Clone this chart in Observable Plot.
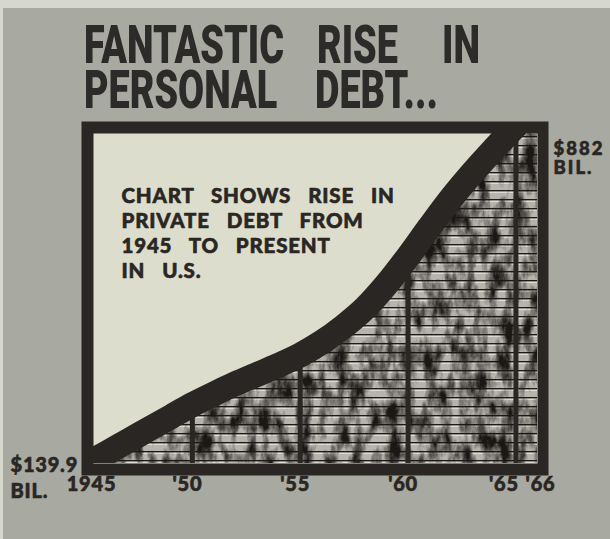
<!DOCTYPE html>
<html><head><meta charset="utf-8">
<script src="https://cdn.jsdelivr.net/npm/d3@7"></script>
<script src="https://cdn.jsdelivr.net/npm/@observablehq/plot@0.6"></script>
<style>
html,body{margin:0;padding:0;background:#d7d8cd;}
#page{position:relative;width:610px;height:539px;overflow:hidden;background:#d7d8cd;}
#grey{position:absolute;left:3px;top:8px;right:0;bottom:0;background:#a8a9a1;}
#title{position:relative;height:118px;}
.tw{position:absolute;font-family:Roboto,"DejaVu Sans",sans-serif;font-weight:900;font-size:54px;line-height:0.75;color:#2c2b29;transform-origin:0 0;transform:scaleX(0.70);white-space:nowrap;}
#chart{position:relative;}
#chart svg{display:block;}
</style></head><body>
<div id="page"><div id="grey"></div><div id="title"></div><div id="chart"></div></div>
<script>
// ---- data ----
const years = [1945,1946,1947,1948,1949,1950,1951,1952,1953,1954,1955,1956,1957,1958,1959,1960,1961,1962,1963,1964,1965,1966];
const debt  = [139.9,165,190,215,240,265,287,308,327,346,367,393,425,463,512,569,630,689,742,791,838,882];
const gridYears = [1950,1955,1960,1965];
const tickYears = [1945,1950,1955,1960,1965,1966];
const tickLabels = ["1945","'50","'55","'60","'65","'66"];
const titleLine1 = ["FANTASTIC","RISE","IN"];
const titleLine2 = ["PERSONAL","DEBT..."];
const noteLines = ["CHART SHOWS RISE IN","PRIVATE DEBT FROM","1945 TO PRESENT","IN U.S."];
const startLabel = ["$139.9","BIL."];
const endLabel = ["$882","BIL."];

// ---- title (HTML) ----
const title = document.getElementById("title");
function addWords(words, lefts, top){
  words.forEach((w,i)=>{
    const s=document.createElement("div");
    s.className="tw"; s.textContent=w;
    s.style.left=lefts[i]+"px"; s.style.top=top+"px";
    title.appendChild(s);
  });
}
addWords(titleLine1,[84,317,442],25);
addWords(titleLine2,[84,315],70);

// ---- chart ----
const data = years.map((year,i)=>({year, debt: debt[i]}));
const debtAt = y => debt[years.indexOf(y)];
const labelOf = y => tickLabels[tickYears.indexOf(y)];
const ink = "#2a2623";
const gap = "\u00a0\u00a0\u00a0";
const labelFont = {fontFamily:"Lato, 'DejaVu Sans', sans-serif", fontWeight:900, fill:ink, stroke:ink, strokeWidth:0.6};
const tick = (ys, dx) => Plot.text(ys, {x:d=>d, text:labelOf, frameAnchor:"bottom", dy:27, dx, fontSize:20, ...labelFont});

const chart = Plot.plot({
  width: 610, height: 421,
  marginLeft: 93, marginRight: 73, marginTop: 15, marginBottom: 76,
  x: {domain:[1945,1966], range:[84,537], axis:null},
  y: {domain:[139.9,882], range:[347,-14.2], axis:null},
  style: {background:"transparent", overflow:"visible"},
  marks: [
    Plot.frame({fill: ink, insetLeft:-12, insetRight:-11, insetTop:-12, insetBottom:-12}),
    Plot.frame({fill: "#dcddcc"}),
    Plot.areaY(data, {x:"year", y1:0, y2:"debt", curve:"monotone-x", fill:"url(#tex)", clip:true}),
    Plot.ruleX(gridYears, {x:d=>d, y1:0, y2:d=>debtAt(d), stroke:ink, strokeWidth:5, clip:true}),
    Plot.line(data, {x:"year", y:"debt", curve:"monotone-x", stroke:ink, strokeWidth:25, clip:true}),
    Plot.text([noteLines.map(s=>s.split(" ").join(gap)).join("\n")], {text:d=>d, frameAnchor:"top-left", textAnchor:"start", lineAnchor:"top", dx:28, dy:52, fontSize:20.5, lineHeight:1.22, ...labelFont}),
    tick([1945], 7),
    tick([1950,1955,1960], -5),
    tick([1965], -12),
    tick([1966], 3),
    Plot.text([{year:years[0], debt:debt[0]}], {x:"year", y:"debt", text:()=>startLabel.join("\n"), textAnchor:"start", lineAnchor:"top", dx:-74, dy:-12, fontSize:20, lineHeight:1.3, ...labelFont}),
    Plot.text([{year:years[years.length-1], debt:debt[debt.length-1]}], {x:"year", y:"debt", text:()=>endLabel.join("\n"), textAnchor:"start", lineAnchor:"top", dx:16, dy:38, fontSize:18.5, lineHeight:1.0, ...labelFont})
  ]
});

// texture defs
const svg = d3.select(chart);
const defs = svg.insert("defs", ":first-child");
const pat = defs.append("pattern").attr("id","tex").attr("patternUnits","userSpaceOnUse").attr("width",8).attr("height",9);
pat.append("rect").attr("width",8).attr("height",9).attr("fill","#b6b4ac");
pat.append("rect").attr("y",0).attr("width",8).attr("height",1.6).attr("fill","#1d1a18");
pat.append("rect").attr("y",1.6).attr("width",8).attr("height",1.2).attr("fill","#e8e7de");
const f = defs.append("filter").attr("id","mottle").attr("x",0).attr("y",0).attr("width",1).attr("height",1).attr("color-interpolation-filters","sRGB");
f.append("feTurbulence").attr("type","fractalNoise").attr("baseFrequency","0.08 0.035").attr("numOctaves",4).attr("seed",11).attr("result","noise");
f.append("feColorMatrix").attr("in","noise").attr("type","matrix").attr("values","0 0 0 0 0.1  0 0 0 0 0.09  0 0 0 0 0.08  2.6 0 0 0 -0.95").attr("result","spots");
f.append("feComposite").attr("in","spots").attr("in2","SourceGraphic").attr("operator","in").attr("result","clipped");
const m = f.append("feMerge"); m.append("feMergeNode").attr("in","SourceGraphic"); m.append("feMergeNode").attr("in","clipped");
svg.selectAll('g[aria-label="area"]').attr("filter","url(#mottle)");
svg.selectAll('g[aria-label="text"] text').attr("letter-spacing","0.8");
svg.selectAll('g[aria-label="text"] text').filter(function(){return this.textContent.startsWith("$882");}).attr("letter-spacing","2");

document.getElementById("chart").appendChild(chart);
</script>
</body></html>
